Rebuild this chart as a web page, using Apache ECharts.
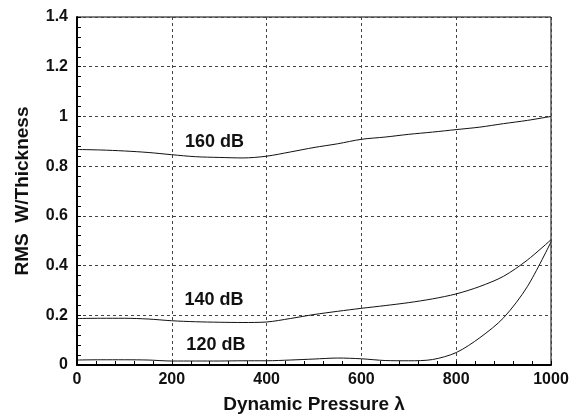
<!DOCTYPE html>
<html>
<head>
<meta charset="utf-8">
<style>
  html, body { margin: 0; padding: 0; background: #fff; }
  #chart { width: 578px; height: 419px; }
</style>
<script src="https://cdn.jsdelivr.net/npm/echarts@6/dist/echarts.min.js"></script>
</head>
<body>
<div id="chart"></div>
<script>
// Dynamic pressure values where the response was sampled
const lambda = [0, 50, 100, 150, 200, 250, 300, 350, 400, 450, 500,
                550, 600, 650, 700, 750, 800, 850, 900, 950, 1000];

// RMS W/Thickness for each sound pressure level
const db160 = [0.867, 0.865, 0.861, 0.855, 0.846, 0.838, 0.835, 0.833, 0.840, 0.857, 0.875,
               0.890, 0.908, 0.917, 0.928, 0.937, 0.947, 0.957, 0.971, 0.984, 1.000];
const db140 = [0.187, 0.188, 0.188, 0.185, 0.178, 0.174, 0.172, 0.171, 0.173, 0.187, 0.203,
               0.216, 0.228, 0.239, 0.251, 0.266, 0.286, 0.316, 0.357, 0.422, 0.504];
const db120 = [0.020, 0.021, 0.021, 0.020, 0.016, 0.016, 0.016, 0.017, 0.017, 0.020, 0.024,
               0.028, 0.025, 0.018, 0.017, 0.022, 0.050, 0.110, 0.190, 0.315, 0.495];

// Curve names and where their captions sit (data coordinates)
const curveNames = ['160 dB', '140 dB', '120 dB'];
const captionAt = [[290, 0.899], [289, 0.261], [293, 0.082]];

const xTicks = { min: 0, max: 1000, interval: 200 };
const yTicks = { min: 0, max: 1.4, interval: 0.2 };

const FONT = '"Liberation Sans", Arial, sans-serif';
const INK = '#111';

function pairs(ys) { return lambda.map((x, i) => [x, ys[i]]); }

const gridLine = { show: true, lineStyle: { color: '#444', type: [3, 3], width: 1 } };
const tickStyle = { color: '#000', width: 1 };

const chart = echarts.init(document.getElementById('chart'), null, { renderer: 'canvas' });

const seriesData = [db160, db140, db120];

chart.setOption({
  animation: false,
  backgroundColor: '#fff',
  grid: { left: 77, right: 27, top: 17, bottom: 53, show: true, borderColor: '#000', borderWidth: 1 },
  xAxis: {
    type: 'value', min: xTicks.min, max: xTicks.max, interval: xTicks.interval,
    name: 'Dynamic Pressure λ', nameLocation: 'middle', nameGap: 30,
    nameTextStyle: { fontFamily: FONT, fontWeight: 'bold', fontSize: 19, color: INK },
    axisLine: { show: true, onZero: false, lineStyle: { color: '#000', width: 2 } },
    axisTick: { show: true, inside: true, length: 4, lineStyle: tickStyle },
    minorTick: { show: true, splitNumber: 5, length: 4, lineStyle: tickStyle },
    axisLabel: {
      fontFamily: FONT, fontWeight: 'bold', fontSize: 16, color: INK, margin: 7,
      formatter: v => String(v)
    },
    splitLine: gridLine
  },
  yAxis: {
    type: 'value', min: yTicks.min, max: yTicks.max, interval: yTicks.interval,
    name: 'RMS  W/Thickness', nameLocation: 'middle', nameGap: 45, nameRotate: 90,
    nameTextStyle: { fontFamily: FONT, fontWeight: 'bold', fontSize: 19, color: INK },
    axisLine: { show: true, onZero: false, lineStyle: { color: '#000', width: 2 } },
    axisTick: { show: true, inside: true, length: 4, lineStyle: tickStyle },
    minorTick: { show: true, splitNumber: 5, length: 4, lineStyle: tickStyle },
    axisLabel: {
      fontFamily: FONT, fontWeight: 'bold', fontSize: 16, color: INK, margin: 9,
      formatter: v => (Math.round(v * 10) / 10).toString()
    },
    splitLine: gridLine
  },
  series: seriesData.map((ys, i) => ({
    type: 'line',
    name: curveNames[i],
    data: pairs(ys),
    smooth: 0.3,
    showSymbol: false,
    symbol: 'none',
    lineStyle: { color: '#111', width: 1 },
    z: 3,
    markPoint: {
      symbol: 'circle', symbolSize: 0,
      label: {
        show: true, formatter: curveNames[i], position: 'inside',
        fontFamily: FONT, fontWeight: 'bold', fontSize: 18, color: INK
      },
      data: [{ coord: captionAt[i] }]
    }
  }))
});
</script>
</body>
</html>
